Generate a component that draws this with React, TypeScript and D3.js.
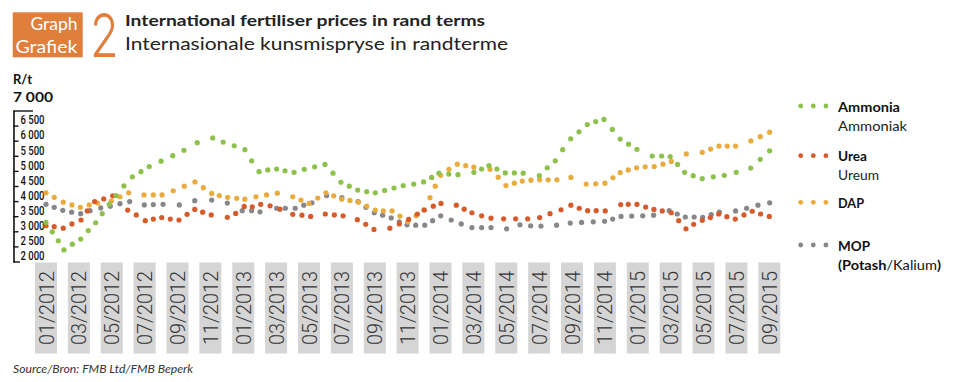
import React from "react";
import * as d3 from "d3";

// months since Jan 2012 (decimal) and prices in R/t
const ammoniaT = [0,0.38,0.75,1.09,1.6,2.11,2.57,3.02,3.42,3.85,4.26,4.74,5.25,5.78,6.28,7.0,7.71,8.39,9.2,10.14,10.78,11.45,12.1,12.51,12.96,13.49,14.03,14.54,15.09,15.71,16.34,16.97,17.46,17.94,18.45,18.96,19.51,20.03,20.6,21.17,21.73,22.37,22.97,23.46,23.9,24.5,25.06,26.03,26.5,26.95,27.43,27.94,28.49,29.03,30.01,30.49,30.98,31.43,31.92,32.42,32.93,33.44,33.94,34.45,34.93,35.44,35.95,36.88,37.45,37.97,38.42,38.85,39.37,39.92,40.59,41.26,41.99,42.87,43.45,44.02];
const ammoniaV = [3310,3000,2700,2400,2590,2760,3040,3300,3600,3910,4200,4520,4820,4990,5160,5340,5520,5700,5950,6110,5970,5850,5720,5350,4990,5050,5080,5020,4970,5070,5150,5230,4940,4640,4510,4380,4330,4290,4370,4450,4530,4580,4650,4800,4940,4910,4890,4970,5080,5190,5080,4950,4950,4940,4860,5120,5350,5720,6080,6310,6550,6650,6720,6390,6070,5900,5730,5510,5510,5490,5230,4970,4860,4760,4820,4870,4970,5110,5400,5680];

const ureaT = [0,0.5,1.05,1.58,2.13,2.51,2.96,3.51,4.06,4.97,5.49,6.04,6.53,7.04,7.56,8.09,8.58,9.05,9.53,10.05,11.03,11.54,12.06,12.55,13.06,13.63,14.23,15.01,15.57,16.1,16.99,17.54,18.07,18.94,19.45,19.95,20.92,21.49,22.06,22.59,23.01,23.56,24.03,24.96,25.44,25.91,26.5,27.07,27.84,28.57,29.3,30.03,30.66,31.33,31.93,32.44,32.95,33.47,34.02,34.96,35.42,35.95,36.48,36.98,37.49,38.04,38.49,38.93,39.4,39.92,40.41,40.92,41.42,41.93,42.46,42.96,43.47,44.0];
const ureaV = [3200,3170,3120,3260,3390,3690,4000,4090,4190,3720,3560,3370,3420,3470,3420,3390,3580,3740,3650,3560,3480,3610,3840,3830,3910,3860,3750,3580,3550,3510,3590,3560,3530,3400,3250,3080,3120,3260,3410,3590,3720,3850,3940,3880,3750,3630,3530,3450,3430,3430,3430,3470,3600,3730,3880,3780,3700,3700,3690,3900,3910,3910,3820,3740,3690,3630,3370,3100,3250,3380,3470,3590,3500,3420,3560,3680,3590,3510];

const dapT = [0,0.5,1.05,1.58,2.09,2.63,3.14,3.97,4.5,5.03,5.96,6.53,7.06,7.74,8.41,9.06,9.57,10.08,10.54,11.05,11.6,12.1,12.77,13.42,14.07,15.01,15.51,16.0,16.53,17.03,17.5,17.99,18.49,19.0,19.51,20.03,20.52,21.05,21.53,22.0,22.51,22.99,23.36,23.68,24.01,24.51,25.02,25.53,26.03,27.01,27.51,27.98,28.49,28.97,29.5,30.03,30.55,31.08,31.93,32.86,33.44,34.0,34.49,34.93,35.42,35.93,36.45,37.0,37.53,38.04,38.95,39.92,40.43,40.94,41.44,41.95,42.88,43.45,44.02];
const dapV = [4290,4140,3980,3890,3810,3890,3950,4020,4160,4290,4220,4220,4220,4360,4510,4650,4460,4270,4200,4140,4110,4080,4160,4220,4280,4160,4050,3940,4120,4290,4190,4080,4040,3980,3850,3720,3690,3690,3520,3330,3530,3730,4130,4510,4870,5070,5240,5190,5140,5070,4810,4530,4610,4680,4710,4720,4720,4720,4800,4580,4590,4610,4790,4960,5050,5120,5150,5160,5240,5330,5580,5630,5740,5840,5840,5840,6010,6150,6300];

const mopT = [0,0.5,1.02,1.56,2.11,2.68,3.33,3.91,4.5,5.09,5.98,6.53,7.12,8.11,9.05,10.08,11.03,11.94,12.51,13.02,14.03,14.56,15.16,15.68,16.18,17.07,18.0,18.98,19.46,19.97,20.48,21.0,21.49,21.96,22.49,23.04,23.52,24.01,24.65,25.26,25.91,26.5,27.07,28.02,28.83,29.48,30.11,31.06,31.89,32.58,33.29,33.98,34.47,34.98,35.63,36.3,36.96,37.91,38.4,38.89,39.43,39.95,40.47,40.96,41.95,42.62,43.31,44.02];
const mopV = [3910,3810,3710,3650,3600,3700,3790,3850,3930,4000,3890,3900,3910,3890,4030,4050,3950,3700,3700,3660,3780,3780,3780,3880,3960,4200,4130,4000,3810,3630,3550,3460,3330,3230,3220,3220,3370,3530,3390,3260,3140,3140,3140,3100,3230,3200,3190,3220,3290,3310,3330,3350,3420,3510,3520,3530,3550,3700,3590,3490,3490,3480,3570,3650,3690,3780,3880,3960];

const xTickMonths = [0,2,4,6,8,10,12,14,16,18,20,22,24,26,28,30,32,34,36,38,40,42,44];
const xTickLabels = ["01/2012","03/2012","05/2012","07/2012","09/2012","11/2012","01/2013","03/2013","05/2013","07/2013","09/2013","11/2013","01/2014","03/2014","05/2014","07/2014","09/2014","11/2014","01/2015","03/2015","05/2015","07/2015","09/2015"];
const yTickValues = [2000,2500,3000,3500,4000,4500,5000,5500,6000,6500];
const yTickLabels = ["2 000","2 500","3 000","3 500","4 000","4 500","5 000","5 500","6 000","6 500"];

const COLORS = { ammonia: "#8DC14C", urea: "#D75A2B", dap: "#E8AB3C", mop: "#87878B" };
const FONT = "Lato, 'Open Sans', sans-serif";

export default function App() {
  const x = d3.scaleLinear().domain([0, 44]).range([46, 769.3]);
  const y = d3.scaleLinear().domain([2000, 7000]).range([262, 111]);

  const series = [
    { key: "mop", t: mopT, v: mopV, color: COLORS.mop },
    { key: "dap", t: dapT, v: dapV, color: COLORS.dap },
    { key: "urea", t: ureaT, v: ureaV, color: COLORS.urea },
    { key: "ammonia", t: ammoniaT, v: ammoniaV, color: COLORS.ammonia },
  ];

  const legendDots = (cy: number, color: string) =>
    [0, 1, 2].map((i) => <circle key={i} cx={800.7 + i * 12.6} cy={cy} r={2.4} fill={color} />);

  const lt = (xx: number, yy: number, s: string, len: number, bold: boolean) => (
    <text x={xx} y={yy} fontSize={13.5} fontWeight={bold ? 700 : 400} fill={bold ? "#111" : "#222"}
      textLength={len} lengthAdjust="spacingAndGlyphs">{s}</text>
  );

  return (
    <svg width={960} height={382} style={{ position: "absolute", left: 0, top: 0, background: "#fff" }} fontFamily={FONT}>
      <rect width={960} height={382} fill="#fff" />
      {/* Header */}
      <rect x={12.7} y={12.3} width={70} height={45} fill="#E07E3C" />
      <text x={77.5} y={30} textAnchor="end" fill="#fff" fontSize={17} textLength={47} lengthAdjust="spacingAndGlyphs">Graph</text>
      <text x={77.5} y={52.5} textAnchor="end" fill="#fff" fontSize={17} textLength={62} lengthAdjust="spacingAndGlyphs">Grafiek</text>
      <text x={0} y={0} fill="#E07E3C" fontSize={60} fontWeight={300} fontFamily="Inter, sans-serif"
        transform="translate(90,57) scale(0.78,1)">2</text>
      <text x={125} y={26} fontSize={15.5} fontWeight={700} fill="#222" textLength={360} lengthAdjust="spacingAndGlyphs">International fertiliser prices in rand terms</text>
      <text x={125} y={50} fontSize={17.5} fill="#222" textLength={383} lengthAdjust="spacingAndGlyphs">Internasionale kunsmispryse in randterme</text>

      {/* Y axis */}
      <text x={13} y={84} fontSize={13} fontWeight={700} fill="#111">R/t</text>
      <text x={13} y={102} fontSize={13} fontWeight={700} fill="#111" textLength={40} lengthAdjust="spacingAndGlyphs">7 000</text>
      <line x1={14} x2={14} y1={y(7000)} y2={y(2000) + 0.5} stroke="#111" strokeWidth={1.6} />
      <line x1={13.2} x2={33} y1={y(7000)} y2={y(7000)} stroke="#111" strokeWidth={1.4} />
      {yTickValues.map((v, i) => (
        <g key={v}>
          <line x1={13.2} x2={i === 0 ? 20 : 18.5} y1={y(v)} y2={y(v)} stroke="#111" strokeWidth={1.4} />
          <text x={20.5} y={y(v) - 1.8} fontSize={13.5} fill="#111" fontWeight={500} fontFamily="Roboto, sans-serif"
            textLength={24} lengthAdjust="spacingAndGlyphs">{yTickLabels[i]}</text>
        </g>
      ))}

      {/* X labels */}
      {xTickMonths.map((m, i) => (
        <g key={m}>
          <rect x={x(m) - 11} y={262.5} width={22} height={91} fill="#D5D5D5" />
          <text transform={`translate(${x(m) + 7.5},${308}) rotate(-90)`} textAnchor="middle" fontSize={21}
            fontWeight={300} fill="#333" fontFamily="Roboto, sans-serif" textLength={74} lengthAdjust="spacingAndGlyphs">
            {xTickLabels[i]}
          </text>
        </g>
      ))}

      {/* Data dots */}
      {series.map((s) => (
        <g key={s.key}>
          {s.t.map((t, i) => (
            <circle key={i} cx={x(t)} cy={y(s.v[i])} r={2.6} fill={s.color} />
          ))}
        </g>
      ))}

      {/* Legend */}
      {legendDots(106, COLORS.ammonia)}
      {lt(838, 111.5, "Ammonia", 62, true)}
      {lt(838, 130.5, "Ammoniak", 69, false)}
      {legendDots(155.7, COLORS.urea)}
      {lt(838, 161, "Urea", 29, true)}
      {lt(838, 180, "Ureum", 41, false)}
      {legendDots(202.3, COLORS.dap)}
      {lt(838, 207.5, "DAP", 26, true)}
      {legendDots(245, COLORS.mop)}
      {lt(838, 250.7, "MOP", 32, true)}
      <text x={838} y={270} fontSize={13.5} fill="#111" textLength={103} lengthAdjust="spacingAndGlyphs">
        <tspan fontWeight={700}>(Potash</tspan>
        <tspan>/Kalium</tspan>
        <tspan fontWeight={700}>)</tspan>
      </text>

      {/* Source */}
      <text x={13} y={373} fontSize={12} fontStyle="italic" fill="#333" textLength={180} lengthAdjust="spacingAndGlyphs">Source/Bron: FMB Ltd/FMB Beperk</text>
    </svg>
  );
}
